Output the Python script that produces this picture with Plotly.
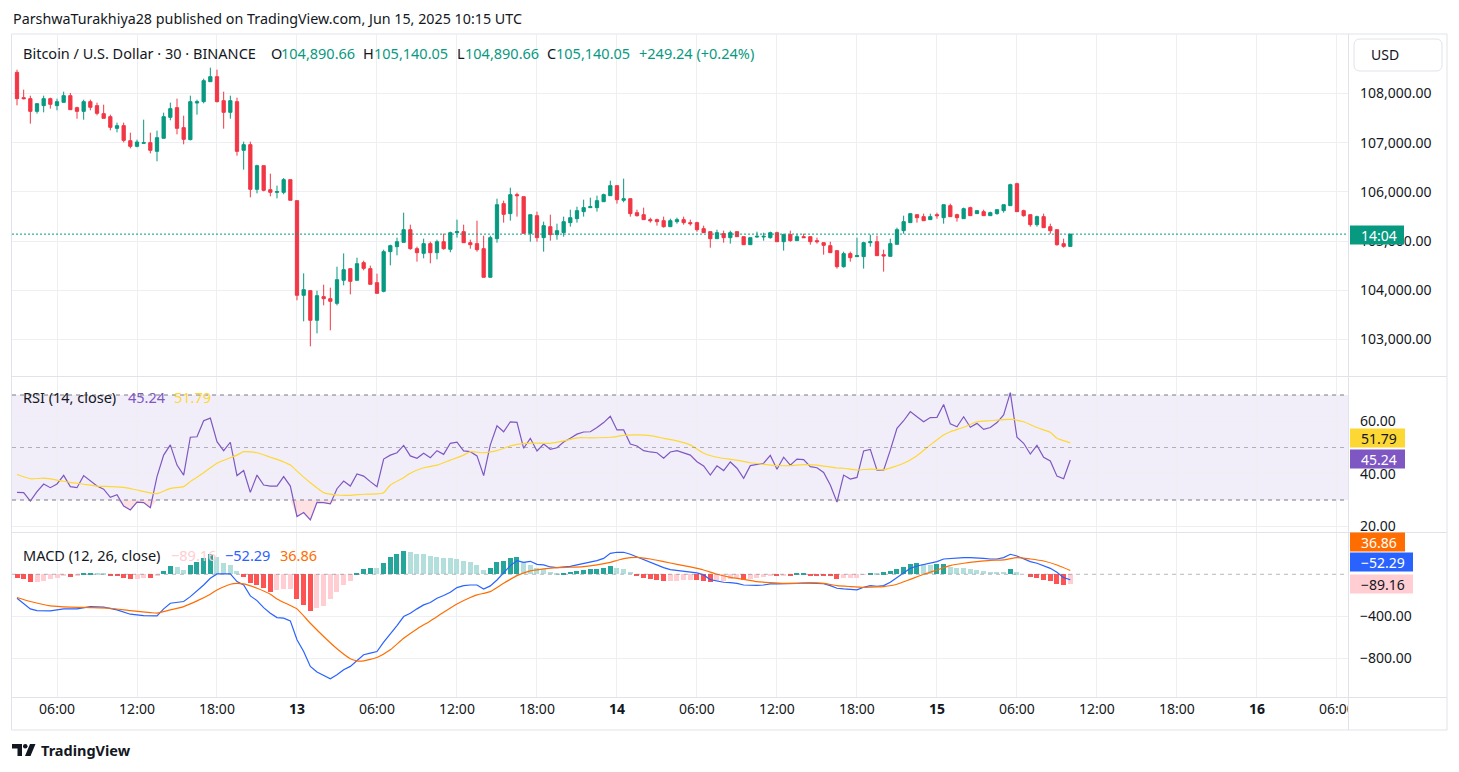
import pandas as pd
import plotly.graph_objects as go
from plotly.subplots import make_subplots

# ---------------- data ----------------
start_time = "2025-06-12 03:00"
n_candles = 159
times = pd.date_range(start_time, periods=n_candles, freq="30min")

opens = [108428, 107913, 107893, 107635, 107751, 107893, 107751, 107818, 107954, 107710,
         107635, 107832, 107751, 107588, 107527, 107290, 107344, 107039, 106924, 106985,
         106999, 106822, 107087, 107514, 107710, 107304, 107060, 107805, 107832, 108238,
         108340, 107852, 107615, 107832, 106843, 106958, 106050, 106531, 106043, 105989,
         105989, 106247, 105820, 103896, 103991, 103388, 103869, 103828, 103733, 104201,
         104438, 104201, 104560, 104438, 104153, 103977, 104783, 104885, 104973, 105230,
         104844, 104749, 104946, 104763, 104986, 104831, 105169, 105190, 104966, 104946,
         104844, 104262, 105047, 105759, 105556, 105942, 105901, 105156, 105515, 105068,
         105291, 105129, 105169, 105373, 105454, 105596, 105678, 105678, 105799, 105921,
         106125, 105827, 105860, 105576, 105535, 105434, 105434, 105413, 105291, 105393,
         105434, 105373, 105373, 105251, 105190, 105047, 105149, 105068, 105190, 105088,
         104925, 105081, 105081, 105068, 105169, 104986, 105129, 105007, 105088, 105088,
         105007, 104966, 104905, 104804, 104478, 104743, 104682, 104682, 104966, 104986,
         104722, 104688, 104932, 105210, 105373, 105535, 105495, 105434, 105535, 105474,
         105718, 105535, 105454, 105678, 105556, 105596, 105515, 105556, 105617, 105718,
         106165, 105617, 105535, 105332, 105495, 105291, 105230, 104946, 104890.66]
highs = [108482, 108076, 107954, 107800, 107954, 107913, 107893, 108035, 108008, 107730,
         107873, 107873, 107812, 107771, 107568, 107405, 107405, 107202, 107060, 107466,
         107202, 107243, 107608, 107812, 107893, 107547, 107954, 107873, 108299, 108523,
         108482, 108035, 107954, 107913, 107019, 107019, 106551, 106531, 106369, 106125,
         106280, 106247, 105820, 104343, 103991, 103991, 104112, 104051, 104478, 104749,
         104438, 104661, 104600, 104499, 104336, 104824, 104925, 105068, 105576, 105332,
         104885, 105047, 104986, 105027, 105149, 105190, 105434, 105332, 105027, 105413,
         105108, 105108, 105860, 105820, 106084, 105982, 105901, 105535, 105596, 105393,
         105535, 105352, 105495, 105637, 105698, 105840, 105881, 105921, 105962, 106226,
         106125, 106267, 105860, 105637, 105678, 105474, 105454, 105495, 105454, 105474,
         105495, 105434, 105393, 105312, 105190, 105230, 105210, 105210, 105190, 105088,
         105068, 105190, 105169, 105190, 105190, 105149, 105210, 105149, 105149, 105088,
         105068, 104966, 104986, 104804, 104783, 104783, 105068, 104986, 105129, 105108,
         104824, 105047, 105271, 105515, 105556, 105535, 105556, 105556, 105576, 105738,
         105759, 105556, 105678, 105698, 105617, 105637, 105596, 105637, 105738, 106165,
         106186, 105637, 105535, 105515, 105556, 105352, 105230, 105047, 105140.05]
lows = [107757, 107879, 107385, 107588, 107615, 107690, 107656, 107818, 107669, 107486,
        107466, 107656, 107554, 107493, 107249, 107209, 107005, 106883, 106904, 106985,
        106782, 106619, 107087, 107453, 107168, 106965, 107046, 107568, 107798, 108238,
        107818, 107283, 107486, 106734, 106450, 105888, 105969, 106009, 105908, 105867,
        105949, 105827, 103794, 103367, 102859, 103123, 103692, 103184, 103692, 104099,
        103916, 104201, 104404, 104119, 103936, 103957, 104505, 104709, 104973, 104824,
        104580, 104648, 104546, 104627, 104824, 104770, 105068, 104966, 104844, 104783,
        104262, 104262, 104966, 105373, 105413, 105495, 105156, 104986, 104986, 104783,
        105007, 105027, 105088, 105291, 105373, 105495, 105678, 105596, 105799, 105921,
        105759, 105786, 105495, 105495, 105434, 105373, 105312, 105271, 105291, 105352,
        105332, 105312, 105190, 105169, 104864, 105047, 104966, 104946, 105088, 104925,
        104925, 105068, 105007, 105047, 104986, 104804, 104986, 105007, 105068, 104925,
        104946, 104722, 104763, 104438, 104458, 104580, 104682, 104438, 104885, 104702,
        104377, 104688, 104932, 105149, 105373, 105373, 105413, 105434, 105454, 105352,
        105495, 105393, 105454, 105515, 105556, 105515, 105515, 105535, 105576, 105718,
        105596, 105495, 105291, 105291, 105271, 105149, 104905, 104864, 104890.66]
closes = [107893, 107893, 107635, 107791, 107893, 107778, 107832, 107954, 107669, 107635,
          107832, 107717, 107595, 107493, 107310, 107344, 107046, 106924, 107012, 106999,
          106843, 107100, 107527, 107690, 107290, 107066, 107832, 107832, 108259, 108340,
          107832, 107615, 107852, 106822, 106958, 106050, 106531, 106030, 105989, 106003,
          106247, 105827, 103896, 104011, 103388, 103889, 103828, 103774, 104214, 104417,
          104180, 104539, 104444, 104119, 103936, 104783, 104905, 104986, 105230, 104844,
          104763, 104946, 104763, 104986, 104844, 105169, 105190, 104966, 104925, 104824,
          104262, 105068, 105738, 105542, 105942, 105921, 105156, 105535, 105068, 105312,
          105129, 105210, 105393, 105474, 105617, 105678, 105698, 105820, 105942, 106125,
          105840, 105860, 105556, 105515, 105434, 105413, 105393, 105291, 105413, 105434,
          105373, 105352, 105230, 105169, 105047, 105169, 105068, 105169, 105088, 104925,
          105068, 105095, 105095, 105169, 104986, 105129, 105007, 105088, 105068, 104986,
          104986, 104912, 104763, 104478, 104743, 104661, 104702, 104966, 104986, 104702,
          104695, 104946, 105230, 105393, 105556, 105474, 105413, 105495, 105515, 105738,
          105495, 105474, 105657, 105515, 105617, 105515, 105576, 105637, 105738, 106145,
          105596, 105515, 105332, 105495, 105271, 105210, 104925, 104890.81, 105140.05]

rsi = [32.9, 32.8, 29.6, 33.2, 36.1, 34.7, 36.1, 39.4, 35.1, 34.7,
       39.3, 37.2, 35.3, 34.1, 31.0, 32.0, 27.7, 26.2, 29.2, 29.0,
       27.1, 38.9, 47.1, 51.0, 43.3, 39.5, 53.9, 54.1, 60.2, 61.2,
       52.2, 48.8, 52.0, 39.3, 41.2, 32.9, 39.5, 35.7, 35.3, 35.3,
       38.9, 35.3, 23.7, 25.2, 22.4, 29.1, 29.0, 28.5, 34.3, 37.2,
       35.3, 39.9, 39.1, 37.0, 35.1, 45.6, 47.1, 48.0, 50.8, 46.8,
       45.9, 47.8, 46.1, 48.8, 47.4, 51.6, 52.0, 48.7, 48.4, 46.8,
       39.3, 51.0, 58.3, 56.0, 59.8, 59.6, 49.7, 53.5, 48.7,
       51.3, 49.3, 49.9, 52.1, 53.5, 55.1, 55.9, 56.0, 57.6, 59.5,
       61.9, 56.7, 56.7, 51.3, 50.6, 48.8, 48.3, 48.0, 45.9, 48.3,
       48.8, 47.8, 47.1, 44.6, 43.0, 39.5, 43.0, 41.2, 44.5, 42.1,
       38.3, 43.1, 43.6, 44.0, 47.0, 41.7, 46.3, 43.3, 45.6, 45.4,
       42.7, 42.3, 40.5, 35.7, 29.2, 39.5, 38.0, 38.6, 48.7, 49.3,
       41.4, 41.4, 49.0, 57.3, 60.2, 63.7, 61.7, 59.8, 61.4, 61.5,
       66.4, 59.0, 57.9, 61.7, 57.7, 59.2, 56.9, 57.6, 59.5, 62.4,
       70.9, 53.9, 51.6, 47.5, 50.8, 46.3, 44.9, 39.1, 38.1, 45.24]

rsi_ma_idx = [0, 2, 4, 6, 8, 10, 12, 14, 16, 18, 21, 23, 25, 26, 28, 30, 33, 34, 36, 38,
              39, 41, 42, 43, 44, 46, 48, 50, 52, 54, 55, 56, 58, 59, 61, 63, 65, 67, 68, 70,
              72, 74, 75, 77, 80, 82, 84, 86, 89, 91, 93, 95, 97, 99, 101, 103, 105, 108, 110, 112,
              114, 116, 118, 120, 123, 124, 126, 128, 130, 133, 135, 137, 139, 140, 142, 144, 146, 149, 151, 153,
              155, 156, 158]
rsi_ma = [39.7, 38.1, 38.3, 37.6, 36.7, 36.0, 35.3, 35.1, 34.8, 33.8, 32.4, 34.4, 35.1, 37.0, 40.4, 44.0, 47.1, 48.4, 48.0, 46.3,
          45.5, 43.3, 41.0, 38.7, 36.6, 32.8, 31.9, 31.8, 32.2, 32.3, 32.8, 35.7, 38.5, 40.2, 42.3, 43.3, 45.2, 47.1, 48.4, 48.0,
          48.8, 50.6, 51.2, 51.7, 51.6, 52.5, 53.7, 53.7, 53.9, 54.6, 54.8, 54.5, 53.5, 52.5, 51.0, 47.8, 46.3, 45.2, 44.2, 43.6,
          43.1, 43.1, 43.5, 43.3, 42.2, 42.1, 41.4, 41.8, 41.5, 44.0, 46.9, 51.0, 54.8, 56.0, 57.7, 59.8, 60.2, 60.7, 59.8, 57.6,
          55.8, 53.5, 51.79]

macd_idx = [0, 1, 2, 3, 5, 7, 9, 11, 13, 15, 17, 19, 21, 22, 23, 25, 26, 28] + list(range(29, 159))
macd_vals = [-229, -276, -330, -346, -349, -330, -330, -308, -314, -340, -381, -394, -397, -330, -276, -260, -213, -102,
             -38, 3, 3, 3, -70, -102, -206, -251, -318, -371, -413, -419, -445, -625, -737, -879, -933, -968, -997, -959,
             -911, -879, -822, -768, -752, -737, -648, -572, -489, -403, -371, -330, -292, -270, -229, -203, -171, -127,
             -108, -102, -102, -140, -111, -54, 10, 83, 130, 114, 124, 95, 89, 70, 64, 67, 76, 89, 102, 114, 130, 152,
             200, 210, 210, 191, 165, 140, 114, 89, 64, 44, 38, 32, 25, 13, -6, -51, -64, -76, -79, -86, -102, -105,
             -105, -102, -92, -92, -92, -92, -86, -83, -83, -83, -89, -108, -133, -140, -146, -149, -124, -108, -114, -108,
             -76, -32, 16, 57, 79, 95, 108, 121, 146, 152, 152, 159, 159, 152, 152, 146, 146, 159, 191, 175, 146, 121,
             105, 83, 57, 19, -32, -52.29]

signal_idx = [0, 2, 5, 8, 11, 14, 17, 20, 21, 23, 25, 27, 29, 30, 32, 33, 34, 36, 38, 39,
              41, 42, 44, 46, 48, 50, 51, 52, 54, 56, 58, 60, 62, 64, 66, 68, 69, 71, 73, 75,
              77, 79, 81, 83, 85, 87, 89, 90, 91, 93, 95, 97, 99, 101, 103, 105, 107, 109, 111, 113,
              115, 117, 119, 121, 123, 125, 127, 129, 130, 132, 134, 136, 138, 140, 142, 144, 146, 148, 150, 152,
              154, 156, 158]
signal_vals = [-222, -260, -302, -314, -318, -324, -346, -365, -371, -340, -308, -254, -190, -150, -95, -86, -92, -133, -190, -235,
               -298, -330, -467, -594, -711, -806, -826, -826, -794, -721, -610, -521, -445, -362, -283, -222, -197, -165, -86, -13,
               32, 51, 64, 67, 73, 89, 114, 132, 150, 162, 146, 121, 95, 70, 41, 0, -29, -48, -70, -79,
               -86, -86, -79, -86, -108, -117, -124, -121, -117, -95, -48, 0, 41, 83, 105, 121, 133, 137, 159, 146,
               127, 89, 36.86]

hist = [-32, -48, -70, -70, -60, -48, -32, -19, -22, -13,
        10, 16, 13, 6, -13, -19, -32, -41, -41, -32,
        -35, -10, 32, 79, 70, 44, 89, 117, 152, 197,
        162, 111, 89, 32, -25, -86, -102, -133, -165, -146,
        -140, -140, -238, -292, -349, -324, -298, -238, -165, -102,
        -64, 16, 54, 64, 64, 111, 162, 194, 222, 213,
        194, 190, 175, 162, 156, 156, 146, 130, 117, 89,
        44, 64, 114, 127, 152, 165, 121, 89, 57,
        48, 22, 6, 10, 22, 32, 41, 51, 55, 60,
        79, 57, 51, 22, -16, -35, -48, -54, -64, -64,
        -64, -54, -52, -56, -64, -73, -66, -62, -48, -38,
        -57, -41, -32, -25, -13, -16, -10, -13, 6, 13,
        -10, -12, -14, -19, -41, -32, -32, -32, -3, 13,
        6, 19, 32, 51, 70, 98, 108, 95, 89, 95,
        102, 70, 64, 64, 51, 38, 32, 25, 25, 25,
        51, 19, 0, -25, -32, -51, -60, -89, -98, -89.16]

x_tick_times = ["2025-06-12 06:00", "2025-06-12 12:00", "2025-06-12 18:00", "2025-06-13 00:00",
                "2025-06-13 06:00", "2025-06-13 12:00", "2025-06-13 18:00", "2025-06-14 00:00",
                "2025-06-14 06:00", "2025-06-14 12:00", "2025-06-14 18:00", "2025-06-15 00:00",
                "2025-06-15 06:00", "2025-06-15 12:00", "2025-06-15 18:00", "2025-06-16 00:00",
                "2025-06-16 06:00"]
x_tick_text = ["06:00", "12:00", "18:00", "<b>13</b>", "06:00", "12:00", "18:00", "<b>14</b>",
               "06:00", "12:00", "18:00", "<b>15</b>", "06:00", "12:00", "18:00", "<b>16</b>", "06:00"]
price_ticks = [103000, 104000, 105000, 106000, 107000, 108000]
price_tick_text = ["103,000.00", "104,000.00", "105,000.00", "106,000.00", "107,000.00", "108,000.00"]
rsi_ticks = [20, 40, 60]
rsi_tick_text = ["20.00", "40.00", "60.00"]
macd_ticks = [-800, -400]
macd_tick_text = ["\u2212800.00", "\u2212400.00"]

# ---------------- layout helpers ----------------
# page coordinates; the html body adds an 8px margin, so the figure is offset by OFF
OFF = 8
PAGE_W, PAGE_H = 1459, 772
W, H = PAGE_W - OFF, PAGE_H - OFF
PL, PR, PT, PB = 12, 1348, 35, 697
FONT = "Noto Sans"
TXT = "#131722"


def PX(x):
    return (x - PL) / (PR - PL)


def PY(y):
    return (PB - y) / (PB - PT)


fig = make_subplots(rows=3, cols=1, shared_xaxes=True, vertical_spacing=0.0)

fig.add_trace(go.Candlestick(
    x=times, open=opens, high=highs, low=lows, close=closes,
    increasing=dict(line=dict(color="#089981", width=1), fillcolor="#089981"),
    decreasing=dict(line=dict(color="#F23645", width=1), fillcolor="#F23645"),
    whiskerwidth=0, showlegend=False, hoverinfo="skip"), row=1, col=1)

# RSI fills (oversold / overbought)
fig.add_trace(go.Scatter(x=times, y=[30] * n_candles, mode="lines", line=dict(width=0),
                         showlegend=False, hoverinfo="skip"), row=2, col=1)
fig.add_trace(go.Scatter(x=times, y=[min(v, 30) for v in rsi], mode="lines", line=dict(width=0),
                         fill="tonexty", fillcolor="rgba(242,54,69,0.15)",
                         showlegend=False, hoverinfo="skip"), row=2, col=1)
fig.add_trace(go.Scatter(x=times, y=[70] * n_candles, mode="lines", line=dict(width=0),
                         showlegend=False, hoverinfo="skip"), row=2, col=1)
fig.add_trace(go.Scatter(x=times, y=[max(v, 70) for v in rsi], mode="lines", line=dict(width=0),
                         fill="tonexty", fillcolor="rgba(8,153,129,0.15)",
                         showlegend=False, hoverinfo="skip"), row=2, col=1)
fig.add_trace(go.Scatter(x=times, y=rsi, mode="lines", line=dict(color="#7E57C2", width=1.2),
                         showlegend=False, hoverinfo="skip"), row=2, col=1)
fig.add_trace(go.Scatter(x=[times[i] for i in rsi_ma_idx], y=rsi_ma, mode="lines",
                         line=dict(color="#FDD835", width=1.2, shape="spline", smoothing=0.5),
                         showlegend=False, hoverinfo="skip"), row=2, col=1)

# MACD
hist_colors = []
for k, v in enumerate(hist):
    prev = hist[k - 1] if k > 0 else 0
    if v >= 0:
        hist_colors.append("#26A69A" if v > prev else "#B2DFDB")
    else:
        hist_colors.append("#FF5252" if v < prev else "#FFCDD2")
fig.add_trace(go.Bar(x=times, y=hist, marker=dict(color=hist_colors, line=dict(width=0)),
                     width=1350000, showlegend=False, hoverinfo="skip"), row=3, col=1)
fig.add_trace(go.Scatter(x=[times[i] for i in macd_idx], y=macd_vals, mode="lines",
                         line=dict(color="#2962FF", width=1.2),
                         showlegend=False, hoverinfo="skip"), row=3, col=1)
fig.add_trace(go.Scatter(x=[times[i] for i in signal_idx], y=signal_vals, mode="lines",
                         line=dict(color="#FF6D00", width=1.2, shape="spline", smoothing=0.5),
                         showlegend=False, hoverinfo="skip"), row=3, col=1)

x_range = ["2025-06-12 02:37:30", "2025-06-16 06:49:40"]
GRID = "#eeeff2"
for r in (1, 2, 3):
    fig.update_xaxes(type="date", range=x_range, tickmode="array", tickvals=x_tick_times,
                     ticktext=x_tick_text, showgrid=True, gridcolor=GRID, gridwidth=1,
                     zeroline=False, showline=False, ticks="", rangeslider_visible=False,
                     showticklabels=(r == 3), tickangle=0, ticklabelstandoff=2,
                     tickfont=dict(family=FONT, size=14, color=TXT), row=r, col=1)

ycommon = dict(side="right", showgrid=True, gridcolor=GRID, gridwidth=1, zeroline=False,
               showline=False, ticks="", tickmode="array",
               tickfont=dict(family=FONT, size=14, color=TXT), ticklabelstandoff=11)
fig.update_yaxes(range=[102256, 109187], tickvals=price_ticks, ticktext=price_tick_text,
                 domain=[PY(376), 1.0], row=1, col=1, **ycommon)
fig.update_yaxes(range=[17.81, 76.86], tickvals=rsi_ticks, ticktext=rsi_tick_text,
                 domain=[PY(532), PY(377)], row=2, col=1, **ycommon)
fig.update_yaxes(range=[-1171, 394], tickvals=macd_ticks, ticktext=macd_tick_text,
                 domain=[0.0, PY(533)], row=3, col=1, **ycommon)

fig.update_layout(width=W, height=H,
                  margin=dict(l=PL - OFF, r=W - (PR - OFF), t=PT - OFF, b=H - (PB - OFF)),
                  paper_bgcolor="white", plot_bgcolor="white", showlegend=False,
                  hovermode=False, bargap=0, font=dict(family=FONT, color=TXT))

shapes = []
# RSI band background
shapes.append(dict(type="rect", xref="x2 domain", yref="y2", x0=0, x1=1, y0=30, y1=70,
                   fillcolor="rgba(126,87,194,0.1)", line=dict(width=0), layer="below"))
for lvl, col in ((70, "#787B86"), (30, "#787B86"), (50, "rgba(120,123,134,0.55)")):
    shapes.append(dict(type="line", xref="x2 domain", yref="y2", x0=0, x1=1, y0=lvl, y1=lvl,
                       line=dict(color=col, width=1, dash="4px,4px"), layer="above"))
shapes.append(dict(type="line", xref="x3 domain", yref="y3", x0=0, x1=1, y0=0, y1=0,
                   line=dict(color="rgba(120,123,134,0.55)", width=1, dash="4px,4px"), layer="above"))
# current price dotted line
shapes.append(dict(type="line", xref="x domain", yref="y", x0=0, x1=1, y0=closes[-1], y1=closes[-1],
                   line=dict(color="#089981", width=1, dash="2px,2px"), layer="above"))
# cover for clipped time label in axis corner
shapes.append(dict(type="rect", xref="paper", yref="paper", x0=PX(1349), x1=PX(1446.5),
                   y0=PY(729.5), y1=PY(698), fillcolor="white", line=dict(width=0), layer="above"))
BORDER = "#e0e3eb"
for yy in (376.5, 532.5):
    shapes.append(dict(type="line", xref="paper", yref="paper", x0=PX(12), x1=PX(1447), y0=PY(yy), y1=PY(yy),
                       line=dict(color=BORDER, width=1), layer="above"))
shapes.append(dict(type="line", xref="paper", yref="paper", x0=PX(1348.5), x1=PX(1348.5), y0=PY(730), y1=PY(34),
                   line=dict(color=BORDER, width=1), layer="above"))
shapes.append(dict(type="line", xref="paper", yref="paper", x0=PX(12), x1=PX(1447), y0=PY(697.5), y1=PY(697.5),
                   line=dict(color=BORDER, width=1), layer="above"))
shapes.append(dict(type="rect", xref="paper", yref="paper", x0=PX(11.5), x1=PX(1447), y0=PY(730), y1=PY(34),
                   line=dict(color=BORDER, width=1), fillcolor="rgba(0,0,0,0)", layer="above"))
# USD box
x0b, x1b, y0b, y1b, rr = 1354, 1442, 39, 71, 6
usd_path = (f"M {PX(x0b + rr)},{PY(y0b)} L {PX(x1b - rr)},{PY(y0b)} Q {PX(x1b)},{PY(y0b)} {PX(x1b)},{PY(y0b + rr)} "
            f"L {PX(x1b)},{PY(y1b - rr)} Q {PX(x1b)},{PY(y1b)} {PX(x1b - rr)},{PY(y1b)} "
            f"L {PX(x0b + rr)},{PY(y1b)} Q {PX(x0b)},{PY(y1b)} {PX(x0b)},{PY(y1b - rr)} "
            f"L {PX(x0b)},{PY(y0b + rr)} Q {PX(x0b)},{PY(y0b)} {PX(x0b + rr)},{PY(y0b)} Z")
shapes.append(dict(type="path", xref="paper", yref="paper", path=usd_path,
                   line=dict(color=BORDER, width=1), fillcolor="white", layer="above"))

# right-axis value boxes
boxes = [(235, 1404, "#089981", "white", "14:04"),
         (438, 1405, "#FDD835", TXT, "51.79"),
         (459, 1405, "#7E57C2", "white", "45.24"),
         (542, 1405, "#FF6D00", "white", "36.86"),
         (562, 1413, "#2962FF", "white", "\u221252.29"),
         (584, 1413, "#FFCDD2", TXT, "\u221289.16")]
for yc, xr, bg, fg, label in boxes:
    shapes.append(dict(type="rect", xref="paper", yref="paper", x0=PX(1350), x1=PX(xr),
                       y0=PY(yc + 9.5), y1=PY(yc - 9.5), fillcolor=bg, line=dict(width=0), layer="above"))

# TradingView logo
shapes.append(dict(type="path", xref="paper", yref="paper",
                   path=f"M {PX(12)},{PY(744)} L {PX(22)},{PY(744)} L {PX(22)},{PY(756)} L {PX(17.5)},{PY(756)} "
                        f"L {PX(17.5)},{PY(748.5)} L {PX(12)},{PY(748.5)} Z",
                   fillcolor=TXT, line=dict(width=0), layer="above"))
shapes.append(dict(type="circle", xref="paper", yref="paper", x0=PX(23), x1=PX(27.5), y0=PY(748.5), y1=PY(744),
                   fillcolor=TXT, line=dict(width=0), layer="above"))
shapes.append(dict(type="path", xref="paper", yref="paper",
                   path=f"M {PX(30)},{PY(744)} L {PX(35.5)},{PY(744)} L {PX(30.5)},{PY(756)} L {PX(25)},{PY(756)} Z",
                   fillcolor=TXT, line=dict(width=0), layer="above"))
fig.update_layout(shapes=shapes)


def ann(x, y, text, color=TXT, size=13, xanchor="left"):
    fig.add_annotation(xref="paper", yref="paper", x=PX(x), y=PY(y), text=text, showarrow=False,
                       xanchor=xanchor, yanchor="middle", borderpad=0,
                       font=dict(family=FONT, size=size, color=color))


GREEN = "#089981"
LS = 14.5
ann(12, 19, "ParshwaTurakhiya28 published on TradingView.com, Jun 15, 2025 10:15 UTC", size=14.3)
ann(22, 53, "Bitcoin / U.S. Dollar \u00b7 30 \u00b7 BINANCE", size=LS)
ann(270, 53, "O", size=LS)
ann(280, 53, "104,890.66", color=GREEN, size=LS)
ann(362, 53, "H", size=LS)
ann(373, 53, "105,140.05", color=GREEN, size=LS)
ann(456, 53, "L", size=LS)
ann(464, 53, "104,890.66", color=GREEN, size=LS)
ann(546, 53, "C", size=LS)
ann(555, 53, "105,140.05", color=GREEN, size=LS)
ann(638, 53, "+249.24 (+0.24%)", color=GREEN, size=LS)
ann(1370, 55, "USD", size=14)

ann(22, 397, "RSI (14, close)", size=LS)
ann(127, 397, "45.24", color="#7E57C2", size=LS)
ann(173, 397, "51.79", color="#FDD835", size=LS)
ann(22, 555, "MACD (12, 26, close)", size=LS)
ann(170, 555, "\u221289.16", color="#FFCDD2", size=LS)
ann(224, 555, "\u221252.29", color="#2962FF", size=LS)
ann(279, 555, "36.86", color="#FF6D00", size=LS)

for yc, xr, bg, fg, label in boxes:
    ann(1360, yc, label, color=fg, size=14)

ann(40, 750, "<b>TradingView</b>", size=14.5)

fig.write_html("out.html")
